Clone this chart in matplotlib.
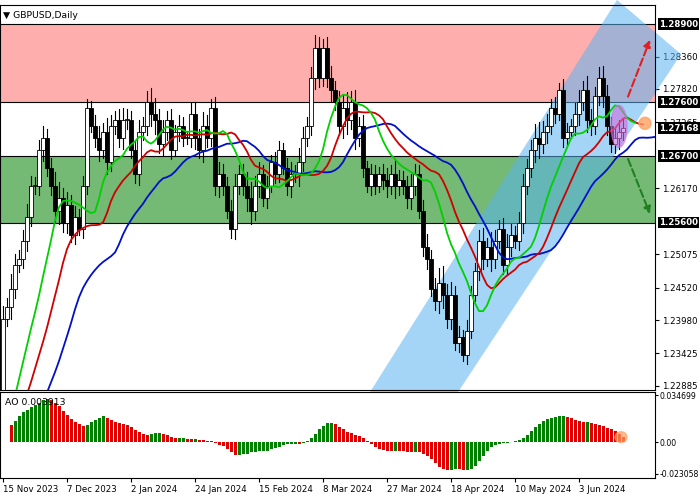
import numpy as np
import pandas as pd
import matplotlib
matplotlib.use("Agg")
import matplotlib.pyplot as plt
from matplotlib.patches import Polygon, Rectangle, Ellipse

warmup = [1.2160,1.2150,1.2120,1.2170,1.2190,1.2180,1.2150,1.2130,1.2140,1.2100,1.2130,1.2160,
          1.2140,1.2120,1.2150,1.2160,1.2110,1.2140,1.2180,1.2230,1.2290,1.2370,1.2380,1.2290,
          1.2240,1.2260,1.2270,1.2230,1.2250,1.2270,1.2250]
closes = [1.2400,1.2420,1.2450,1.2490,1.2500,1.2530,1.2570,1.2620,1.2620,
          1.2680,1.2700,1.2650,1.2620,1.2580,1.2600,
          1.2560,1.2590,1.2540,1.2570,1.2550,1.2620,
          1.2750,1.2720,1.2700,1.2680,1.2710,1.2660,1.2720,1.2730,1.2700,1.2730,
          1.2730,1.2680,1.2640,1.2710,1.2720,1.2760,1.2740,1.2730,1.2690,1.2710,
          1.2730,1.2680,1.2710,1.2720,1.2700,1.2700,1.2740,1.2700,1.2680,1.2720,
          1.2700,1.2750,1.2620,1.2640,1.2620,1.2580,1.2550,1.2620,1.2640,1.2620,
          1.2600,1.2580,1.2620,1.2640,1.2600,1.2620,1.2660,1.2640,1.2680,1.2650,
          1.2620,1.2640,1.2640,1.2660,1.2700,1.2720,1.2800,1.2850,1.2800,1.2850,
          1.2800,1.2780,1.2760,1.2720,1.2750,1.2730,1.2760,1.2700,1.2720,1.2650,
          1.2620,1.2640,1.2620,1.2640,1.2630,1.2620,1.2640,1.2620,1.2630,1.2620,
          1.2600,1.2620,1.2640,1.2580,1.2520,1.2500,1.2450,1.2430,1.2460,1.2440,
          1.2400,1.2440,1.2360,1.2370,1.2340,1.2380,1.2440,1.2480,1.2530,1.2500,
          1.2520,1.2500,1.2530,1.2550,1.2490,1.2520,1.2540,1.2530,1.2560,1.2620,
          1.2650,1.2680,1.2700,1.2690,1.2710,1.2720,1.2750,1.2740,1.2780,1.2700,
          1.2710,1.2720,1.2740,1.2760,1.2780,1.2730,1.2720,1.2770,1.2800,1.2770,
          1.2720,1.2690,1.2700,1.2710,1.27168]
wicks = [0.0025,0.0030,0.0020,0.0030,0.0025,0.0020,0.0030,0.0035,0.0025,0.0040,0.0030,0.0025,
         0.0030,0.0035,0.0030,0.0025,0.0030,0.0035,0.0025,0.0030,0.0040,0.0045,0.0030,0.0035]

dates_lbl = ["15 Nov 2023","7 Dec 2023","2 Jan 2024","24 Jan 2024","15 Feb 2024",
             "8 Mar 2024","27 Mar 2024","18 Apr 2024","10 May 2024","3 Jun 2024"]
right_ticks = [1.28360,1.27820,1.27265,1.26170,1.25075,1.24520,1.23980,1.23425,1.22885]
levels = [1.28900,1.27600,1.26700,1.25600]

allc = np.array(warmup + closes)
nw = len(warmup)
opens_all = np.concatenate([[allc[0]], allc[:-1]])
wk = np.array([wicks[i % len(wicks)] for i in range(len(allc))])
highs_all = np.maximum(opens_all, allc) + wk * 0.6
lows_all = np.minimum(opens_all, allc) - wk * 0.5
med = (highs_all + lows_all) / 2

def smma(x, n):
    return pd.Series(x).ewm(alpha=1.0 / n, adjust=False).mean().values

idx_all = np.arange(len(allc)) - nw
jaw = smma(med, 13); teeth = smma(med, 8); lips = smma(med, 5)
ao = pd.Series(med).rolling(5).mean().values - pd.Series(med).rolling(34).mean().values

FS = 6.2
fig = plt.figure(figsize=(7, 5), dpi=100)
ax = fig.add_axes([0.0, 1 - 390 / 500, 655 / 700, 385 / 500])
ax2 = fig.add_axes([0.0, 1 - 478 / 500, 655 / 700, 86 / 500])
ylo, yhi = 1.22817, 1.29216
xlo, xhi = -0.75, 163
ax.set_xlim(xlo, xhi); ax.set_ylim(ylo, yhi)

ax.add_patch(Rectangle((xlo, 1.276), xhi - xlo, 0.013, color="#ff9a9a", alpha=0.8, lw=0, zorder=0))
ax.add_patch(Rectangle((xlo, 1.256), xhi - xlo, 0.011, color="#5cad5c", alpha=0.85, lw=0, zorder=0))
for lv in levels:
    ax.axhline(lv, color="black", lw=0.8, zorder=1)

ch = [(90.5, 1.2265), (106.3, 1.2203), (169.5, 1.2840), (153.5, 1.2930)]
ax.add_patch(Polygon(ch, closed=True, color="#5ab4f0", alpha=0.55, lw=0, zorder=2, clip_on=False))

for i in range(nw, len(allc)):
    x = i - nw
    o, c, h, l = opens_all[i], allc[i], highs_all[i], lows_all[i]
    ax.plot([x, x], [l, h], color="black", lw=0.8, zorder=3)
    bull = c >= o
    ax.add_patch(Rectangle((x - 0.4, min(o, c)), 0.8, max(abs(c - o), 0.0002),
                           facecolor="white" if bull else "black", edgecolor="black", lw=0.6, zorder=4))

ax.plot(idx_all + 8, jaw, color="#0010c8", lw=1.3, zorder=5)
ax.plot(idx_all + 5, teeth, color="#d00000", lw=1.3, zorder=5)
ax.plot(idx_all + 3, lips, color="#00d000", lw=1.3, zorder=5)

ax.annotate("", xy=(162, 1.2868), xytext=(156, 1.2765),
            arrowprops=dict(arrowstyle="-|>", ls="--", color="#e02020", lw=1.5), zorder=6)
ax.annotate("", xy=(162, 1.2570), xytext=(156, 1.2670),
            arrowprops=dict(arrowstyle="-|>", ls="--", color="#208020", lw=1.5), zorder=6)
ax.add_patch(Ellipse((154, 1.2720), 4, 0.007, color="#d070e0", alpha=0.6, zorder=6))
ax.add_patch(Ellipse((160.5, 1.2725), 3, 0.002, color="#ffa060", alpha=0.8, zorder=6))

ax.set_xticks([]); ax.yaxis.tick_right()
ax.set_yticks(right_ticks); ax.set_yticklabels([f"{v:.5f}" for v in right_ticks], fontsize=FS)
ax.tick_params(axis="y", length=3, pad=2)
for lv in levels + [1.27168]:
    ax.text(1.006, (lv - ylo) / (yhi - ylo), f"{lv:.5f}", transform=ax.transAxes, fontsize=FS,
            color="white", fontweight="bold", va="center", ha="left",
            bbox=dict(facecolor="black", edgecolor="none", pad=1.0))
ax.text(0.004, 0.985, "▼ GBPUSD,Daily", transform=ax.transAxes, fontsize=FS + 0.5, va="top", ha="left",
        bbox=dict(facecolor="white", edgecolor="none", pad=1))

aox = idx_all[nw:]; aov = ao[nw:]
prev = ao[nw - 1:-1]
cols = ["#008000" if v >= p else "#e00000" for v, p in zip(aov, prev)]
ax2.bar(aox, aov, width=0.75, color=cols)
ax2.add_patch(Ellipse((aox[-1] - 0.5, aov[-1]), 3, 0.008, color="#ffa060", alpha=0.7, zorder=6))
ax2.set_xlim(xlo, xhi); ax2.set_ylim(-0.0262, 0.0372)
ax2.yaxis.tick_right()
ax2.set_yticks([0.034699, 0.0, -0.023058]); ax2.set_yticklabels(["0.034699", "0.00", "-0.023058"], fontsize=5.6)
ax2.tick_params(axis="y", length=2, pad=1)
ax2.set_xticks(np.arange(0, 160, 16)); ax2.set_xticklabels(dates_lbl, fontsize=FS, ha="left")
ax2.tick_params(axis="x", length=3, pad=2)
ax2.text(0.008, 0.93, f"AO {aov[-1]:.6f}", transform=ax2.transAxes, fontsize=FS + 0.5, va="top")

fig.savefig("out.png", dpi=100)
